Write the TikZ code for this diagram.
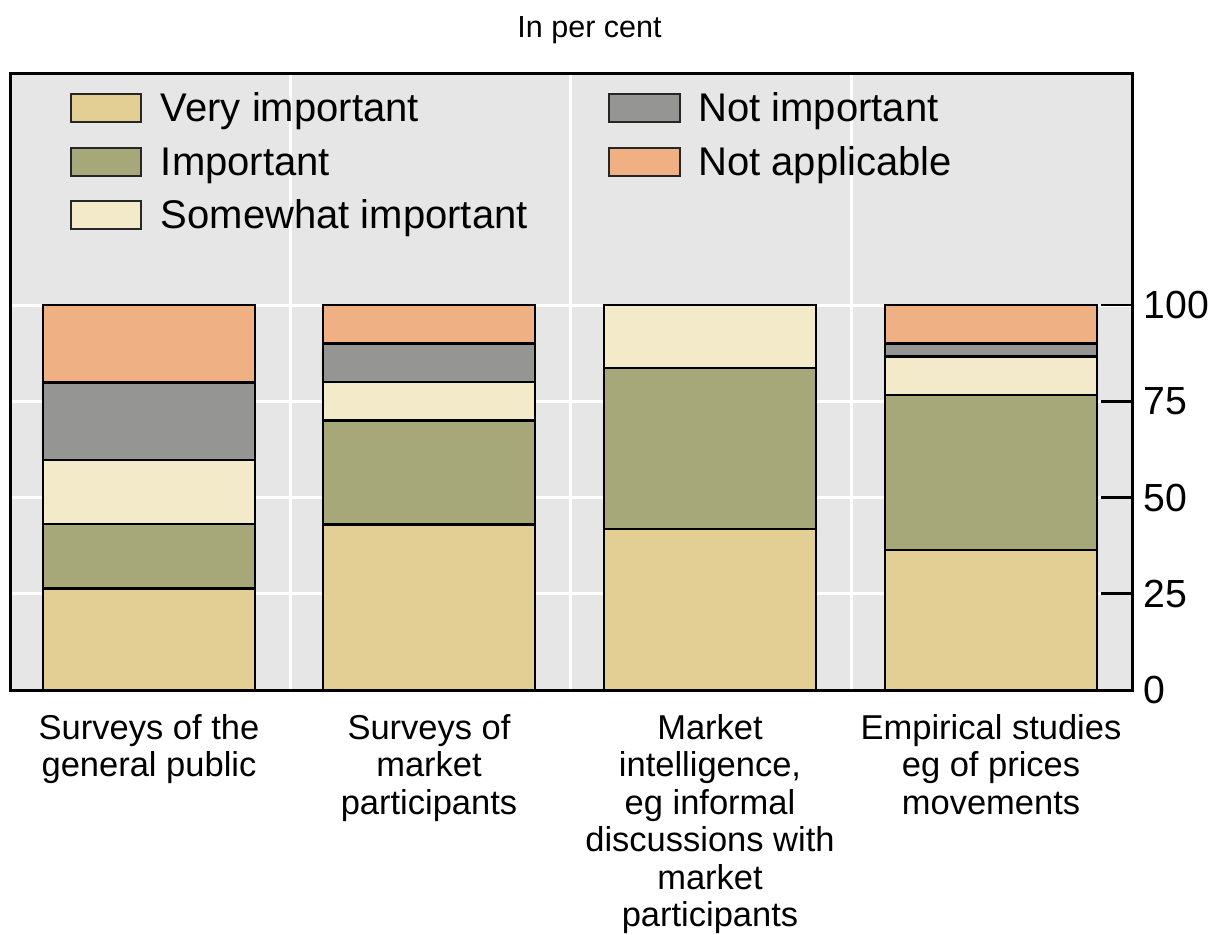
\documentclass[tikz,border=0pt]{standalone}
\usepackage{fontspec}
\setmainfont{Liberation Sans}
\definecolor{bgc}{HTML}{E6E6E6}
\definecolor{vimp}{HTML}{E3CF93}
\definecolor{impc}{HTML}{A6A87A}
\definecolor{swimp}{HTML}{F3EAC9}
\definecolor{nimp}{HTML}{959693}
\definecolor{napp}{HTML}{EFB083}
\newcommand\barseg[4]{\draw[segbox,fill=#4] (#1,{690-3.85*#2}) rectangle ({#1+212},{690-3.85*#3});}
\begin{document}
\begin{tikzpicture}[x=0.5pt,y=-0.5pt,
  segbox/.style={draw=black,line width=1.3pt},
  legbox/.style={draw=black!85,line width=1pt},
  legtext/.style={anchor=base west,inner sep=0pt,font=\fontsize{20pt}{23pt}\selectfont},
  catlabel/.style={anchor=north,inner sep=0pt,align=center,font=\fontsize{17.25pt}{18.75pt}\selectfont},
  ticklabel/.style={anchor=west,inner sep=0pt,font=\fontsize{19.6pt}{22pt}\selectfont},
  gridln/.style={white,line width=1.5pt},
  framestyle/.style={line width=1.5pt},
  tickstyle/.style={line width=1.3pt}]
\useasboundingbox (0,0) rectangle (1213,934);
% plot background
\fill[bgc] (10,73) rectangle (1132,690);
% grid lines
\foreach \yy in {305,401.25,497.5,593.75} \draw[gridln] (10,\yy) -- (1132,\yy);
\foreach \xx in {290,570,851} \draw[gridln] (\xx,73) -- (\xx,690);
% bar 1
\barseg{43}{0}{26.4}{vimp}
\barseg{43}{26.4}{43.1}{impc}
\barseg{43}{43.1}{59.7}{swimp}
\barseg{43}{59.7}{79.8}{nimp}
\barseg{43}{79.8}{100}{napp}
% bar 2
\barseg{323}{0}{43}{vimp}
\barseg{323}{43}{70}{impc}
\barseg{323}{70}{80}{swimp}
\barseg{323}{80}{90}{nimp}
\barseg{323}{90}{100}{napp}
% bar 3
\barseg{604}{0}{41.8}{vimp}
\barseg{604}{41.8}{83.6}{impc}
\barseg{604}{83.6}{100}{swimp}
% bar 4
\barseg{885}{0}{36.4}{vimp}
\barseg{885}{36.4}{76.6}{impc}
\barseg{885}{76.6}{86.6}{swimp}
\barseg{885}{86.6}{90}{nimp}
\barseg{885}{90}{100}{napp}
% frame
\draw[framestyle] (10,73) rectangle (1132,690);
% ticks and labels
\foreach \yy/\lab in {690/0,593.75/25,497.5/50,401.25/75,305/100}{
  \draw[tickstyle] (1101,\yy) -- (1132,\yy);
  \node[ticklabel] (t\lab) at (1143,\yy) {\lab};
}
% legend
\draw[legbox,fill=vimp] (71,94) rectangle (141,122);
\node[legtext] (lvi) at (160.5,121.7) {Very important};
\draw[legbox,fill=impc] (71,147.5) rectangle (141,175.5);
\node[legtext] (lim) at (160.5,175.2) {Important};
\draw[legbox,fill=swimp] (71,201) rectangle (141,229);
\node[legtext] (lsw) at (160.5,228.7) {Somewhat important};
\draw[legbox,fill=nimp] (609,94) rectangle (680,122);
\node[legtext] (lni) at (698,121.7) {Not important};
\draw[legbox,fill=napp] (609,147.5) rectangle (680,175.5);
\node[legtext] (lna) at (698,175.2) {Not applicable};
% title
\node[anchor=base,inner sep=0pt,font=\fontsize{15.25pt}{18pt}\selectfont] (title) at (589.5,37.3) {In per cent};
% category labels
\node[catlabel] (c1) at (149,714) {Surveys of the\\general public};
\node[catlabel] (c2) at (429,714) {Surveys of\\market\\participants};
\node[catlabel] (c3) at (710,714) {Market\\intelligence,\\eg informal\\discussions with\\market\\participants};
\node[catlabel] (c4) at (991,714) {Empirical studies\\eg of prices\\movements};
\end{tikzpicture}
\end{document}
